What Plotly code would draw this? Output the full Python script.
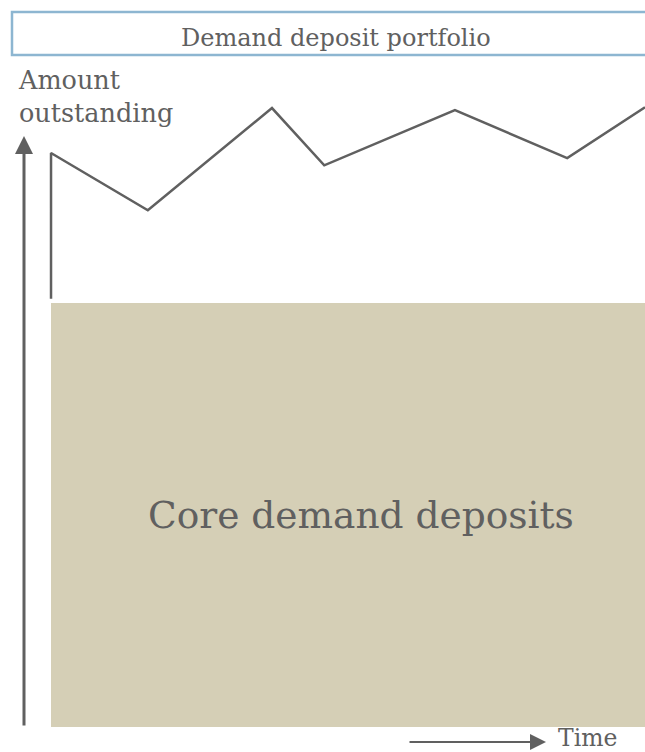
import plotly.graph_objects as go

# Data (time periods, amount outstanding; core level = 100)
time_points = [0, 0, 1.63, 3.72, 4.6, 6.8, 8.69, 10]
amount_points = [101, 135.4, 121.9, 146.0, 132.5, 145.5, 134.2, 146.2]
core_level = 100
core_label = "Core demand deposits"
title_text = "Demand deposit portfolio"
y_label = "Amount<br>outstanding"
x_label = "Time"

W, H = 645, 752
FONT = "DejaVu Serif"
GREY = "#606060"

fig = go.Figure()
fig.add_trace(go.Bar(x=[5], y=[core_level], width=[10], base=0,
                     marker=dict(color="#d5cfb6", line=dict(width=0)),
                     hoverinfo="skip"))
fig.add_trace(go.Scatter(x=time_points, y=amount_points, mode="lines",
                         line=dict(color=GREY, width=2.5), hoverinfo="skip"))

def px(x):
    return x / W

def py(y):
    return 1 - y / H

annotations = [
    dict(x=px(361), y=py(515), xref="paper", yref="paper", text=core_label,
         showarrow=False, xanchor="center", yanchor="middle",
         font=dict(family=FONT, size=37.5, color=GREY)),
    dict(x=px(336), y=py(38), xref="paper", yref="paper", text=title_text,
         showarrow=False, xanchor="center", yanchor="middle",
         font=dict(family=FONT, size=24, color=GREY)),
    dict(x=px(16), y=py(63), xref="paper", yref="paper", text=y_label,
         showarrow=False, xanchor="left", yanchor="top", align="left",
         font=dict(family=FONT, size=25.5, color=GREY)),
    dict(x=px(557), y=py(752), xref="paper", yref="paper", text=x_label,
         showarrow=False, xanchor="left", yanchor="bottom", borderpad=0,
         yshift=-1,
         font=dict(family=FONT, size=23.5, color=GREY)),
    dict(x=px(24), y=py(136), xref="paper", yref="paper", text="",
         showarrow=True, ax=0, ay=591, arrowhead=2, arrowsize=1.2,
         arrowwidth=3, arrowcolor=GREY),
    dict(x=px(546), y=py(742), xref="paper", yref="paper", text="",
         showarrow=True, ax=-138, ay=0, arrowhead=2, arrowsize=1.6,
         arrowwidth=2, arrowcolor=GREY),
]

shapes = [
    dict(type="rect", xref="paper", yref="paper", x0=px(12), x1=px(660),
         y0=py(55), y1=py(12), line=dict(color="#8db6d1", width=2.5),
         fillcolor="rgba(0,0,0,0)"),
]

fig.update_layout(
    width=W, height=H, margin=dict(l=0, r=0, t=0, b=0),
    paper_bgcolor="white", plot_bgcolor="white", showlegend=False,
    xaxis=dict(range=[-0.859, 10], visible=False, fixedrange=True),
    yaxis=dict(range=[-5.9, 171.5], visible=False, fixedrange=True),
    annotations=annotations, shapes=shapes, bargap=0,
)
fig.write_html("out.html", config={"displayModeBar": False},
               post_script="document.body.style.margin='0';document.body.style.overflow='hidden';")
